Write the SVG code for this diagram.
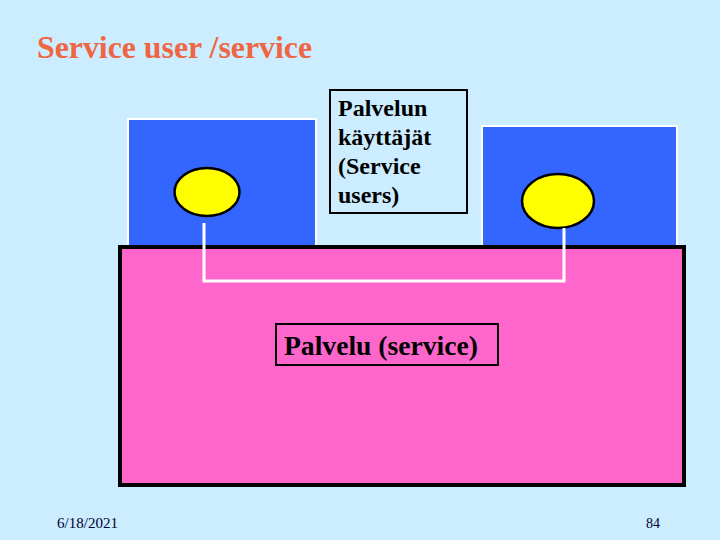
<svg xmlns="http://www.w3.org/2000/svg" width="720" height="540" viewBox="0 0 720 540">
<style>
.user{fill:#3366FF;stroke:#FFFFFF;stroke-width:2}
.sap{fill:#FFFF00;stroke:#000000;stroke-width:2.5}
</style>
<rect x="0" y="0" width="720" height="540" fill="#CCECFF"/>
<text x="37" y="58" font-family="'Liberation Serif', serif" font-weight="bold" font-size="31" fill="#EE6644" textLength="275" lengthAdjust="spacingAndGlyphs">Service user /service</text>
<g id="user-left">
<rect class="user" x="128" y="119" width="188" height="140"/>
</g>
<g id="user-right">
<rect class="user" x="482" y="126" width="195" height="130"/>
</g>
<g id="service">
<rect x="120" y="247" width="564" height="238" fill="#FF66CC" stroke="#000000" stroke-width="4"/>
</g>
<g id="sap-left">
<ellipse class="sap" cx="207" cy="192" rx="32.5" ry="24"/>
</g>
<g id="sap-right">
<ellipse class="sap" cx="558" cy="201" rx="36" ry="27"/>
</g>
<g id="connectors">
<path d="M204,223 V281 H564 V228" fill="none" stroke="#FFFFFF" stroke-width="3"/>
</g>
<g id="label-users">
<rect x="330" y="90" width="137" height="123" fill="#CCECFF" stroke="#000000" stroke-width="2"/>
<text x="338" y="116" font-family="'Liberation Serif', serif" font-weight="bold" font-size="24" fill="#000000">Palvelun</text>
<text x="338" y="145" font-family="'Liberation Serif', serif" font-weight="bold" font-size="24" fill="#000000">käyttäjät</text>
<text x="338" y="174" font-family="'Liberation Serif', serif" font-weight="bold" font-size="24" fill="#000000">(Service</text>
<text x="338" y="203" font-family="'Liberation Serif', serif" font-weight="bold" font-size="24" fill="#000000">users)</text>
</g>
<g id="label-service">
<rect x="276" y="324" width="222" height="41" fill="#FF66CC" stroke="#000000" stroke-width="2"/>
<text x="284" y="355" font-family="'Liberation Serif', serif" font-weight="bold" font-size="27" fill="#000000" textLength="194" lengthAdjust="spacingAndGlyphs">Palvelu (service)</text>
</g>
<text x="57" y="528" font-family="'Liberation Serif', serif" font-size="14" fill="#000033" textLength="61" lengthAdjust="spacingAndGlyphs">6/18/2021</text>
<text x="646" y="528" font-family="'Liberation Serif', serif" font-size="14" fill="#000033">84</text>
</svg>
